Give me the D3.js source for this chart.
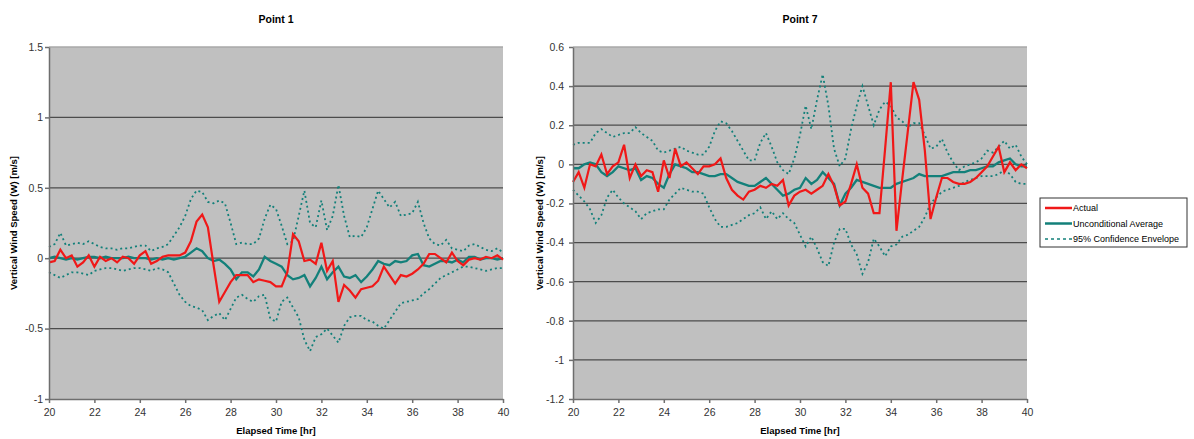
<!DOCTYPE html>
<html>
<head>
<meta charset="utf-8">
<script src="https://d3js.org/d3.v7.min.js"></script>
<style type="text/css">
    body {
        margin: 0;
        background: #fff;
    }
    svg {
        display: block;
        font-family: "Liberation Sans", Arial, sans-serif;
    }
    .title {
        font-size: 10.5px;
        font-weight: bold;
    }
    .axis-label {
        font-size: 9.5px;
        font-weight: bold;
    }
    .axis text {
        font-size: 10.5px;
        fill: #333;
    }
    .axis path, .axis line {
        stroke: #6e6e6e;
        stroke-width: 1.5px;
    }
    .grid {
        stroke: #4c4c4c;
        stroke-width: 1.3px;
    }
    .line {
        fill: none;
        stroke-width: 2px;
    }
    .legend text {
        font-size: 9px;
    }
</style>
</head>
<body>
<svg id="chart" width="1194" height="439"></svg>
<script>

// elapsed time, 15 min steps
var hours = [20, 20.25, 20.5, 20.75, 21, 21.25, 21.5, 21.75, 22, 22.25, 22.5, 22.75,
    23, 23.25, 23.5, 23.75, 24, 24.25, 24.5, 24.75, 25, 25.25, 25.5, 25.75,
    26, 26.25, 26.5, 26.75, 27, 27.25, 27.5, 27.75, 28, 28.25, 28.5, 28.75,
    29, 29.25, 29.5, 29.75, 30, 30.25, 30.5, 30.75, 31, 31.25, 31.5, 31.75,
    32, 32.25, 32.5, 32.75, 33, 33.25, 33.5, 33.75, 34, 34.25, 34.5, 34.75,
    35, 35.25, 35.5, 35.75, 36, 36.25, 36.5, 36.75, 37, 37.25, 37.5, 37.75,
    38, 38.25, 38.5, 38.75, 39, 39.25, 39.5, 39.75, 40];

// Point 1
var p1Actual = [-0.03, -0.02, 0.06, 0.0, 0.02, -0.06, -0.03, 0.02, -0.06, 0.01, -0.02, 0.0,
    -0.03, 0.01, 0.0, -0.04, 0.02, 0.05, -0.04, -0.02, 0.01, 0.02, 0.02, 0.02,
    0.04, 0.12, 0.26, 0.31, 0.22, -0.05, -0.31, -0.24, -0.17, -0.12, -0.12, -0.12,
    -0.17, -0.15, -0.16, -0.17, -0.2, -0.2, -0.1, 0.17, 0.12, -0.02, -0.01, -0.04,
    0.11, -0.09, -0.02, -0.31, -0.19, -0.23, -0.28, -0.22, -0.21, -0.2, -0.16, -0.06,
    -0.12, -0.18, -0.12, -0.13, -0.11, -0.08, -0.04, 0.03, 0.03, 0.0, -0.03, 0.04,
    -0.02, -0.05, -0.01, 0.0, -0.01, 0.01, 0.0, 0.02, -0.01];
var p1Average = [0.0, 0.01, 0.0, -0.01, 0.0, -0.01, 0.0, 0.01, 0.01, 0.0, 0.01, 0.0,
    0.0, 0.0, 0.01, 0.0, 0.0, 0.0, -0.01, 0.0, -0.01, 0.0, -0.01, 0.0,
    0.01, 0.04, 0.07, 0.05, 0.0, -0.02, -0.01, -0.04, -0.08, -0.15, -0.1, -0.1,
    -0.13, -0.08, 0.01, -0.02, -0.04, -0.06, -0.12, -0.15, -0.14, -0.12, -0.2, -0.14,
    -0.06, -0.15, -0.1, -0.06, -0.13, -0.14, -0.12, -0.17, -0.13, -0.08, -0.02, -0.04,
    -0.05, -0.02, -0.03, -0.02, 0.02, 0.03, -0.05, -0.06, -0.04, -0.02, -0.02, -0.03,
    -0.01, -0.03, 0.01, 0.01, -0.01, 0.0, 0.0, -0.01, 0.0];
var p1Upper = [0.08, 0.1, 0.18, 0.09, 0.1, 0.11, 0.1, 0.12, 0.1, 0.08, 0.07, 0.07,
    0.06, 0.07, 0.07, 0.08, 0.09, 0.09, 0.05, 0.07, 0.08, 0.1, 0.16, 0.22,
    0.3, 0.42, 0.48, 0.47, 0.4, 0.39, 0.41, 0.39, 0.25, 0.1, 0.11, 0.1,
    0.1, 0.14, 0.28, 0.38, 0.35, 0.23, 0.1, 0.12, 0.3, 0.48, 0.25, 0.22,
    0.41, 0.2, 0.3, 0.52, 0.3, 0.15, 0.16, 0.15, 0.22, 0.35, 0.48, 0.42,
    0.36, 0.4, 0.3, 0.31, 0.32, 0.4, 0.25, 0.14, 0.1, 0.09, 0.13, 0.07,
    0.06, 0.05, 0.09, 0.1, 0.08, 0.06, 0.05, 0.07, 0.04];
var p1Lower = [-0.1, -0.12, -0.14, -0.12, -0.1, -0.1, -0.11, -0.12, -0.09, -0.08, -0.07, -0.07,
    -0.08, -0.09, -0.08, -0.07, -0.07, -0.08, -0.09, -0.07, -0.08, -0.1, -0.18, -0.26,
    -0.31, -0.34, -0.35, -0.37, -0.44, -0.41, -0.39, -0.44, -0.36, -0.28, -0.26, -0.29,
    -0.31, -0.27, -0.26, -0.43, -0.45, -0.31, -0.28, -0.35, -0.42, -0.58, -0.66, -0.56,
    -0.54, -0.5, -0.55, -0.6, -0.48, -0.42, -0.41, -0.41, -0.44, -0.45, -0.48, -0.5,
    -0.44, -0.38, -0.32, -0.31, -0.3, -0.29, -0.25, -0.22, -0.18, -0.14, -0.12, -0.1,
    -0.08, -0.06, -0.06, -0.07, -0.08, -0.09, -0.08, -0.07, -0.07];

// Point 7
var p7Actual = [-0.09, -0.04, -0.12, 0.0, -0.01, 0.05, -0.05, -0.01, 0.01, 0.1, -0.07, 0.0,
    -0.06, -0.03, -0.04, -0.14, 0.02, -0.07, 0.08, -0.01, 0.01, -0.02, -0.05, -0.01,
    -0.01, 0.0, 0.03, -0.07, -0.13, -0.16, -0.18, -0.14, -0.13, -0.11, -0.12, -0.1,
    -0.11, -0.08, -0.21, -0.16, -0.14, -0.13, -0.15, -0.13, -0.11, -0.05, -0.11, -0.21,
    -0.19, -0.1, 0.0, -0.12, -0.15, -0.25, -0.25, 0.08, 0.42, -0.34, -0.08, 0.17,
    0.42, 0.33, 0.07, -0.28, -0.17, -0.07, -0.07, -0.09, -0.1, -0.1, -0.09, -0.07,
    -0.04, -0.01, 0.04, 0.09, -0.04, 0.01, -0.03, 0.0, -0.02];
var p7Average = [-0.02, -0.02, 0.0, 0.01, 0.0, -0.04, -0.06, -0.04, -0.01, -0.02, -0.03, -0.02,
    -0.08, -0.06, -0.07, -0.1, -0.12, -0.05, 0.0, -0.01, -0.02, -0.04, -0.04, -0.05,
    -0.06, -0.06, -0.05, -0.05, -0.07, -0.09, -0.1, -0.11, -0.11, -0.09, -0.07, -0.1,
    -0.13, -0.16, -0.15, -0.13, -0.12, -0.07, -0.1, -0.08, -0.04, -0.07, -0.1, -0.21,
    -0.15, -0.12, -0.08, -0.09, -0.1, -0.11, -0.12, -0.12, -0.12, -0.1, -0.09, -0.08,
    -0.07, -0.05, -0.06, -0.06, -0.06, -0.06, -0.05, -0.04, -0.04, -0.04, -0.03, -0.03,
    -0.02, -0.01, -0.01, 0.01, 0.02, 0.03, 0.0, -0.01, -0.01];
var p7Upper = [0.1, 0.11, 0.11, 0.11, 0.16, 0.18, 0.16, 0.14, 0.15, 0.16, 0.16, 0.19,
    0.16, 0.14, 0.12, 0.07, 0.06, 0.07, 0.08, 0.09, 0.07, 0.06, 0.05, 0.05,
    0.09, 0.17, 0.22, 0.21, 0.17, 0.12, 0.07, 0.02, 0.02, 0.11, 0.16, 0.09,
    0.01, -0.03, -0.05, 0.03, 0.15, 0.3, 0.18, 0.33, 0.46, 0.3, 0.08, -0.01,
    0.03, 0.18, 0.3, 0.4, 0.3, 0.2, 0.28, 0.32, 0.3, 0.24, 0.22, 0.19,
    0.21, 0.21, 0.15, 0.08, 0.09, 0.13, 0.06, 0.01, -0.03, -0.01, 0.0, 0.01,
    0.03, 0.07, 0.06, 0.09, 0.12, 0.08, 0.1, 0.04, 0.0];
var p7Lower = [-0.13, -0.16, -0.19, -0.23, -0.3, -0.26, -0.17, -0.13, -0.17, -0.2, -0.22, -0.24,
    -0.28, -0.25, -0.24, -0.23, -0.23, -0.18, -0.15, -0.12, -0.13, -0.14, -0.14, -0.15,
    -0.22, -0.28, -0.32, -0.32, -0.31, -0.3, -0.28, -0.26, -0.25, -0.22, -0.28, -0.24,
    -0.28, -0.25, -0.28, -0.3, -0.36, -0.42, -0.37, -0.43, -0.5, -0.52, -0.4, -0.33,
    -0.33, -0.41, -0.46, -0.56, -0.5, -0.38, -0.42, -0.47, -0.42, -0.41, -0.37, -0.36,
    -0.34, -0.32, -0.27, -0.2, -0.17, -0.14, -0.13, -0.12, -0.11, -0.09, -0.08, -0.07,
    -0.06, -0.06, -0.06, -0.05, -0.03, -0.05, -0.09, -0.1, -0.1];

var xTicks = [20, 22, 24, 26, 28, 30, 32, 34, 36, 38, 40];
var p1YTicks = [-1, -0.5, 0, 0.5, 1, 1.5];
var p7YTicks = [-1.2, -1, -0.8, -0.6, -0.4, -0.2, 0, 0.2, 0.4, 0.6];
var legendLabels = ["Actual", "Unconditional Average", "95% Confidence Envelope"];

var red = "#f01818",
    teal = "#13807a";

var plotTop = 47,
    plotBottom = 399;

var panels = [
    {title: "Point 1", left: 49, right: 503, tickPad: 2, labelX: 17,
     yTicks: p1YTicks, actual: p1Actual, average: p1Average, upper: p1Upper, lower: p1Lower},
    {title: "Point 7", left: 573, right: 1027, tickPad: 5, labelX: 543,
     yTicks: p7YTicks, actual: p7Actual, average: p7Average, upper: p7Upper, lower: p7Lower}
];

var svg = d3.select("#chart");

panels.forEach(function(p) {
    var x = d3.scaleLinear()
        .domain(d3.extent(xTicks))
        .range([p.left, p.right]);
    var y = d3.scaleLinear()
        .domain(d3.extent(p.yTicks))
        .range([plotBottom, plotTop]);

    var g = svg.append("g");

    // grey plot area
    g.append("rect")
        .attr("x", x.range()[0])
        .attr("y", y.range()[1])
        .attr("width", x.range()[1] - x.range()[0])
        .attr("height", y.range()[0] - y.range()[1])
        .attr("fill", "#c0c0c0");

    var yMax = d3.max(p.yTicks),
        yMin = d3.min(p.yTicks);

    g.selectAll(".grid")
        .data(p.yTicks.filter(d => d !== yMin))
        .enter().append("line")
        .attr("class", "grid")
        .attr("x1", x.range()[0])
        .attr("x2", x.range()[1])
        .attr("y1", d => y(d))
        .attr("y2", d => y(d))
        .style("stroke", d => d === yMax ? "#a8a8a8" : null);

    var line = d3.line()
        .x(d => x(d.h))
        .y(d => y(d.v));

    function series(arr) {
        return hours.map(function(h, i) {
            return {h: h, v: arr[i]};
        });
    }

    [p.upper, p.lower].forEach(function(arr) {
        g.append("path")
            .attr("class", "line")
            .attr("d", line(series(arr)))
            .style("stroke", teal)
            .style("stroke-width", "1.8px")
            .style("stroke-dasharray", "2,3");
    });

    g.append("path")
        .attr("class", "line")
        .attr("d", line(series(p.average)))
        .style("stroke", teal)
        .style("stroke-width", "2.3px");

    g.append("path")
        .attr("class", "line")
        .attr("d", line(series(p.actual)))
        .style("stroke", red)
        .style("stroke-width", "2.2px");

    g.append("g")
        .attr("class", "axis")
        .attr("transform", "translate(0," + plotBottom + ")")
        .call(d3.axisBottom(x).tickValues(xTicks).tickSize(4).tickSizeOuter(0)
            .tickPadding(6).tickFormat(d => String(d)));

    g.append("g")
        .attr("class", "axis")
        .attr("transform", "translate(" + p.left + ",0)")
        .call(d3.axisLeft(y).tickValues(p.yTicks).tickSize(4).tickSizeOuter(0)
            .tickPadding(p.tickPad).tickFormat(d => String(d)));

    g.selectAll(".axis text").style("font-family", "'Liberation Sans', Arial, sans-serif");

    var cx = (p.left + p.right) / 2;

    g.append("text")
        .attr("class", "title")
        .attr("x", cx)
        .attr("y", 23)
        .attr("text-anchor", "middle")
        .text(p.title);

    g.append("text")
        .attr("class", "axis-label")
        .attr("x", cx)
        .attr("y", 434)
        .attr("text-anchor", "middle")
        .text("Elapsed Time [hr]");

    g.append("text")
        .attr("class", "axis-label")
        .attr("transform", "translate(" + p.labelX + "," + ((plotTop + plotBottom) / 2) + ") rotate(-90)")
        .attr("text-anchor", "middle")
        .text("Vertical Wind Speed (W) [m/s]");
});

// legend
var legend = svg.append("g")
    .attr("class", "legend")
    .attr("transform", "translate(1040,198)");

legend.append("rect")
    .attr("width", 147)
    .attr("height", 49)
    .attr("fill", "#fff")
    .attr("stroke", "#333")
    .attr("stroke-width", 1);

var rows = legend.selectAll(".row")
    .data(legendLabels)
    .enter().append("g")
    .attr("class", "row")
    .attr("transform", (d, i) => "translate(0," + (10 + i * 15.5) + ")");

rows.append("line")
    .attr("x1", 5)
    .attr("x2", 32)
    .attr("stroke", (d, i) => i === 0 ? red : teal)
    .attr("stroke-width", (d, i) => i === 2 ? 1.5 : 2.5)
    .attr("stroke-dasharray", (d, i) => i === 2 ? "3,3" : null);

rows.append("text")
    .attr("x", 33)
    .attr("dy", ".35em")
    .text(d => d);

</script>
</body>
</html>
